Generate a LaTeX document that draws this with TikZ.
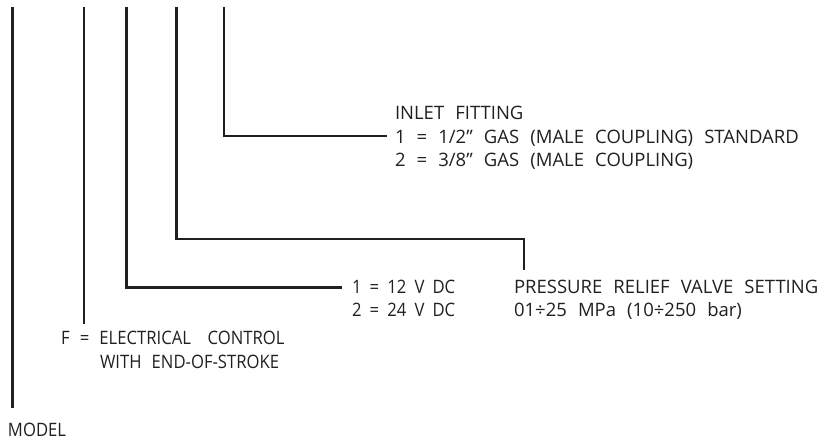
\documentclass[tikz,border=0pt]{standalone}
\usepackage{fontspec}
\setmainfont{Open Sans}
\newfontfamily\narrowsans[FakeStretch=0.9]{Open Sans}
\definecolor{ink}{HTML}{231F20}
\newcommand{\lblfont}{\fontsize{18.5}{23.5}\selectfont\spaceskip=0.6em\relax}
\newcommand{\nlblfont}{\narrowsans\fontsize{18.5}{23.5}\selectfont\spaceskip=0.55em\relax}
\newcommand{\tightsp}{\narrowsans\fontsize{18.5}{23.5}\selectfont\spaceskip=0.44em\relax}
\tikzset{
  lead/.style={draw=ink, line width=2.7pt, line cap=butt, line join=miter},
  lbl/.style={anchor=base west, inner sep=0pt, outer sep=0pt, text=ink,
    font=\lblfont, align=left},
  nlbl/.style={lbl, font=\nlblfont},
  tlbl/.style={lbl, font=\tightsp}
}
\begin{document}
\begin{tikzpicture}[x=1pt,y=-1pt]
\useasboundingbox (0,0) rectangle (824,443);
% labels (anchored at the baseline of the last line)
\node[lbl] (inlet) at (395,167) {INLET FITTING\\1 = 1/2” GAS (MALE COUPLING) STANDARD\\2 = 3/8” GAS (MALE COUPLING)};
\node[tlbl] (volt) at (352,316.5) {1 = 12 V DC\\2 = 24 V DC};
\node[lbl] (prv) at (514,316.5) {PRESSURE RELIEF VALVE SETTING\\01÷25 MPa (10÷250 bar)};
\node[nlbl] (fctl) at (61,368) {F = ELECTRICAL\hspace{0.9em}CONTROL\\\hspace*{39pt}WITH END-OF-STROKE};
\node[nlbl] (model) at (8,436) {MODEL};
% free ends / corners
\coordinate (t1) at (12.7,7);
\coordinate (b1) at (12.7,408);
\coordinate (t2) at (84,7);
\coordinate (b2) at (84,324);
\coordinate (t3) at (126.7,7);
\coordinate (c3) at (126.7,287.5);
\coordinate (e3) at (342,287.5);
\coordinate (t4) at (176.7,7);
\coordinate (c4) at (176.7,239);
\coordinate (d4) at (524,239);
\coordinate (e4) at (524,270);
\coordinate (t5) at (224,7);
\coordinate (c5) at (224,136);
\coordinate (e5) at (387,136);
% leaders
\draw[lead] (t1) -- (b1);
\draw[lead] (t2) -- (b2);
\draw[lead] (t3) -- (c3) -- (e3);
\draw[lead] (t4) -- (c4) -- (d4) -- (e4);
\draw[lead] (t5) -- (c5) -- (e5);
\end{tikzpicture}
\end{document}
